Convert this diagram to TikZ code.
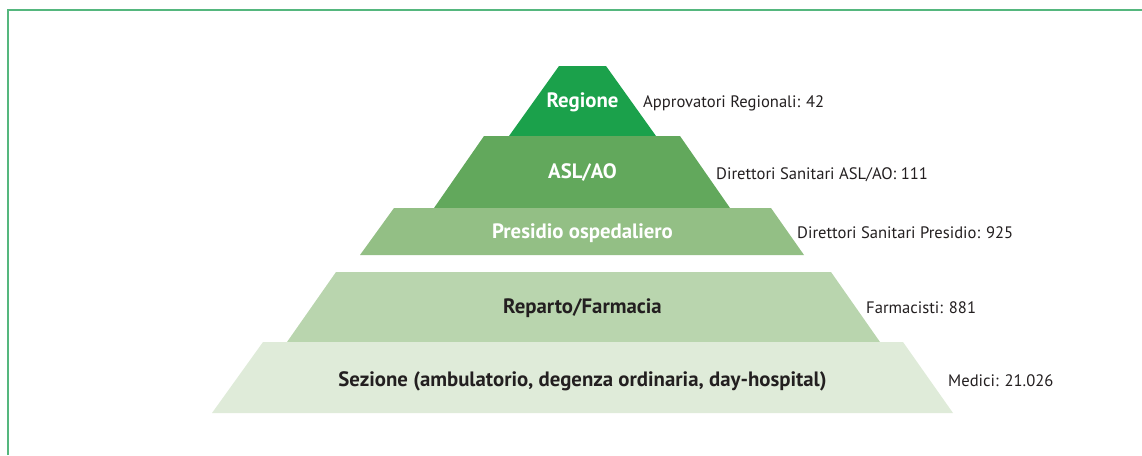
\documentclass[tikz,border=0pt]{standalone}
\usepackage{fontspec}
\setmainfont{PT Sans}
\usetikzlibrary{positioning}
\definecolor{pyrframe}{HTML}{55B77E}
\definecolor{pyrone}{HTML}{1BA14B}
\definecolor{pyrtwo}{HTML}{62A85C}
\definecolor{pyrthree}{HTML}{93BF85}
\definecolor{pyrfour}{HTML}{B9D5AE}
\definecolor{pyrfive}{HTML}{DFEBD9}
\definecolor{pyrink}{HTML}{231F20}
\tikzset{
  tier/.style={font=\bfseries\fontsize{20.8}{24}\selectfont,inner sep=0pt},
  tierlight/.style={tier,text=white},
  tierdark/.style={tier,text=pyrink},
  count/.style={font=\fontsize{16.6}{20}\selectfont,text=pyrink,anchor=west,inner sep=0pt},
  frame/.style={draw=pyrframe,line width=2pt}
}

\begin{document}
\begin{tikzpicture}[x=1pt,y=-1pt]
  \useasboundingbox (0,0) rectangle (1142,455);
  \draw[frame] (8,455) -- (8,10) -- (1142,10);

  % layers of the pyramid
  \fill[pyrone] (509,136) -- (559,66) -- (606,66) -- (656,136) -- cycle;
  \fill[pyrtwo] (434,208) -- (484,136) -- (680,136) -- (730,208) -- cycle;
  \fill[pyrthree] (360,255) -- (394,208) -- (771,208) -- (804,255) -- cycle;
  \fill[pyrfour] (287,342) -- (336,272) -- (831,272) -- (880,342) -- cycle;
  \fill[pyrfive] (212,413) -- (263,342) -- (903,342) -- (953,413) -- cycle;

  \node[tierlight] (regione) at (582.5,102) {Regione};
  \node[tierlight] (asl) at (582.5,173) {ASL/AO};
  \node[tierlight] (presidio) at (582.5,233) {Presidio ospedaliero};
  \node[tierdark] (reparto) at (582.5,308) {Reparto/Farmacia};
  \node[tierdark] (sezione) at (582.5,381) {Sezione (ambulatorio, degenza ordinaria, day-hospital)};

  % counts
  \node[count] (approvatori) at (643,103) {Approvatori Regionali: 42};
  \node[count] (dirasl) at (716,175) {Direttori Sanitari ASL/AO: 111};
  \node[count] (dirpres) at (797,233) {Direttori Sanitari Presidio: 925};
  \node[count] (farmacisti) at (866,308) {Farmacisti: 881};
  \node[count] (medici) at (948,381) {Medici: 21.026};
\end{tikzpicture}
\end{document}
